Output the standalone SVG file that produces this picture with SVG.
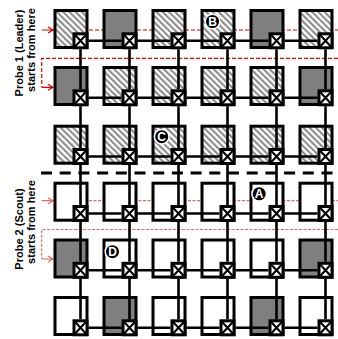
<svg xmlns="http://www.w3.org/2000/svg" xmlns:xlink="http://www.w3.org/1999/xlink" width="338" height="339" viewBox="0 0 338 339">
<style>
.tile{stroke:#000;stroke-width:3}
.h{fill:url(#hatch)}
.g{fill:#7f7f7f}
.w{fill:#fff}
.conn{fill:none;stroke:#000;stroke-width:2.6}
.p1{fill:none;stroke:#e00000;stroke-width:1.2;stroke-dasharray:4 2}
.p2{fill:none;stroke:#e36a6a;stroke-width:1.2;stroke-dasharray:3 1.5}
.a1{fill:none;stroke:#e00000;stroke-width:1.2}
.a2{fill:none;stroke:#e36a6a;stroke-width:1.2}
.lab{font-family:"Liberation Sans",Arial,sans-serif;font-weight:bold;font-size:11px;fill:#000;text-anchor:middle}
.mark circle{fill:#000;stroke:#fff;stroke-width:1.5}
.mark text{font-family:"Liberation Sans",Arial,sans-serif;font-weight:bold;font-size:12px;fill:#fff;text-anchor:middle}
</style>
<defs>
<pattern id="hatch" patternUnits="userSpaceOnUse" width="4.4" height="4.4" patternTransform="rotate(-45)">
<rect width="4.4" height="4.4" fill="#fff"/>
<rect width="2.1" height="4.4" fill="#8c8c8c"/>
</pattern>
<g id="sw">
<rect x="1.5" y="1.5" width="13" height="14" fill="#fff" stroke="#000" stroke-width="3"/>
<path d="M1.5 1.5L14.5 15.5M14.5 1.5L1.5 15.5" stroke="#000" stroke-width="2" fill="none"/>
</g>
</defs>

<g id="probe1">
<path class="p1" d="M53 30H338"/>
<path class="p1" d="M338 58.3H41.7V87.3"/>
<path class="a1" d="M41.7 30H53M48 27L53 30L48 33"/>
<path class="a1" d="M41.7 87.3H53M48 84.3L53 87.3L48 90.3"/>
</g>
<g id="probe2">
<path class="p2" d="M53 200.7H338"/>
<path class="p2" d="M338 229.5H41.7V259"/>
<path class="a2" d="M41.7 200.7H53M48 197.7L53 200.7L48 203.7"/>
<path class="a2" d="M41.7 259H53M48 256L53 259L48 262"/>
</g>

<path id="separator" d="M41 173H338" stroke="#000" stroke-width="3" stroke-dasharray="11 7.7" fill="none"/>

<g id="nodes">
<g id="t11"><rect class="tile h" x="55" y="10.5" width="32" height="37"/><use xlink:href="#sw" x="72.5" y="32.3"/></g>
<g id="t12"><rect class="tile g" x="104" y="10.5" width="32" height="37"/><use xlink:href="#sw" x="121.5" y="32.3"/></g>
<g id="t13"><rect class="tile h" x="153" y="10.5" width="32" height="37"/><use xlink:href="#sw" x="170.5" y="32.3"/></g>
<g id="t14"><rect class="tile h" x="202" y="10.5" width="32" height="37"/><use xlink:href="#sw" x="219.5" y="32.3"/></g>
<g id="t15"><rect class="tile g" x="251" y="10.5" width="32" height="37"/><use xlink:href="#sw" x="268.5" y="32.3"/></g>
<g id="t16"><rect class="tile h" x="300" y="10.5" width="32" height="37"/><use xlink:href="#sw" x="317.5" y="32.3"/></g>

<g id="t21"><rect class="tile g" x="55" y="67.5" width="32" height="37"/><use xlink:href="#sw" x="72.5" y="89.3"/></g>
<g id="t22"><rect class="tile h" x="104" y="67.5" width="32" height="37"/><use xlink:href="#sw" x="121.5" y="89.3"/></g>
<g id="t23"><rect class="tile h" x="153" y="67.5" width="32" height="37"/><use xlink:href="#sw" x="170.5" y="89.3"/></g>
<g id="t24"><rect class="tile h" x="202" y="67.5" width="32" height="37"/><use xlink:href="#sw" x="219.5" y="89.3"/></g>
<g id="t25"><rect class="tile h" x="251" y="67.5" width="32" height="37"/><use xlink:href="#sw" x="268.5" y="89.3"/></g>
<g id="t26"><rect class="tile g" x="300" y="67.5" width="32" height="37"/><use xlink:href="#sw" x="317.5" y="89.3"/></g>

<g id="t31"><rect class="tile h" x="55" y="126.2" width="32" height="37"/><use xlink:href="#sw" x="72.5" y="148"/></g>
<g id="t32"><rect class="tile h" x="104" y="126.2" width="32" height="37"/><use xlink:href="#sw" x="121.5" y="148"/></g>
<g id="t33"><rect class="tile h" x="153" y="126.2" width="32" height="37"/><use xlink:href="#sw" x="170.5" y="148"/></g>
<g id="t34"><rect class="tile h" x="202" y="126.2" width="32" height="37"/><use xlink:href="#sw" x="219.5" y="148"/></g>
<g id="t35"><rect class="tile h" x="251" y="126.2" width="32" height="37"/><use xlink:href="#sw" x="268.5" y="148"/></g>
<g id="t36"><rect class="tile h" x="300" y="126.2" width="32" height="37"/><use xlink:href="#sw" x="317.5" y="148"/></g>

<g id="t41"><rect class="tile w" x="55" y="183.2" width="32" height="37"/><use xlink:href="#sw" x="72.5" y="205"/></g>
<g id="t42"><rect class="tile w" x="104" y="183.2" width="32" height="37"/><use xlink:href="#sw" x="121.5" y="205"/></g>
<g id="t43"><rect class="tile w" x="153" y="183.2" width="32" height="37"/><use xlink:href="#sw" x="170.5" y="205"/></g>
<g id="t44"><rect class="tile w" x="202" y="183.2" width="32" height="37"/><use xlink:href="#sw" x="219.5" y="205"/></g>
<g id="t45"><rect class="tile w" x="251" y="183.2" width="32" height="37"/><use xlink:href="#sw" x="268.5" y="205"/></g>
<g id="t46"><rect class="tile w" x="300" y="183.2" width="32" height="37"/><use xlink:href="#sw" x="317.5" y="205"/></g>

<g id="t51"><rect class="tile g" x="55" y="240" width="32" height="37"/><use xlink:href="#sw" x="72.5" y="261.8"/></g>
<g id="t52"><rect class="tile w" x="104" y="240" width="32" height="37"/><use xlink:href="#sw" x="121.5" y="261.8"/></g>
<g id="t53"><rect class="tile w" x="153" y="240" width="32" height="37"/><use xlink:href="#sw" x="170.5" y="261.8"/></g>
<g id="t54"><rect class="tile w" x="202" y="240" width="32" height="37"/><use xlink:href="#sw" x="219.5" y="261.8"/></g>
<g id="t55"><rect class="tile w" x="251" y="240" width="32" height="37"/><use xlink:href="#sw" x="268.5" y="261.8"/></g>
<g id="t56"><rect class="tile g" x="300" y="240" width="32" height="37"/><use xlink:href="#sw" x="317.5" y="261.8"/></g>

<g id="t61"><rect class="tile w" x="55" y="297.5" width="32" height="37"/><use xlink:href="#sw" x="72.5" y="319.3"/></g>
<g id="t62"><rect class="tile g" x="104" y="297.5" width="32" height="37"/><use xlink:href="#sw" x="121.5" y="319.3"/></g>
<g id="t63"><rect class="tile w" x="153" y="297.5" width="32" height="37"/><use xlink:href="#sw" x="170.5" y="319.3"/></g>
<g id="t64"><rect class="tile w" x="202" y="297.5" width="32" height="37"/><use xlink:href="#sw" x="219.5" y="319.3"/></g>
<g id="t65"><rect class="tile g" x="251" y="297.5" width="32" height="37"/><use xlink:href="#sw" x="268.5" y="319.3"/></g>
<g id="t66"><rect class="tile w" x="300" y="297.5" width="32" height="37"/><use xlink:href="#sw" x="317.5" y="319.3"/></g>
</g>

<g id="connectors">
<path class="conn" d="M80.5 49.3V89.3M80.5 106.3V148M80.5 165V205M80.5 222V261.8M80.5 278.8V319.3
M129.5 49.3V89.3M129.5 106.3V148M129.5 165V205M129.5 222V261.8M129.5 278.8V319.3
M178.5 49.3V89.3M178.5 106.3V148M178.5 165V205M178.5 222V261.8M178.5 278.8V319.3
M227.5 49.3V89.3M227.5 106.3V148M227.5 165V205M227.5 222V261.8M227.5 278.8V319.3
M276.5 49.3V89.3M276.5 106.3V148M276.5 165V205M276.5 222V261.8M276.5 278.8V319.3
M325.5 49.3V89.3M325.5 106.3V148M325.5 165V205M325.5 222V261.8M325.5 278.8V319.3"/>
<path class="conn" d="M88.5 40.8H121.5M137.5 40.8H170.5M186.5 40.8H219.5M235.5 40.8H268.5M284.5 40.8H317.5
M88.5 97.8H121.5M137.5 97.8H170.5M186.5 97.8H219.5M235.5 97.8H268.5M284.5 97.8H317.5
M88.5 156.5H121.5M137.5 156.5H170.5M186.5 156.5H219.5M235.5 156.5H268.5M284.5 156.5H317.5
M88.5 213.5H121.5M137.5 213.5H170.5M186.5 213.5H219.5M235.5 213.5H268.5M284.5 213.5H317.5
M88.5 270.3H121.5M137.5 270.3H170.5M186.5 270.3H219.5M235.5 270.3H268.5M284.5 270.3H317.5
M88.5 327.8H121.5M137.5 327.8H170.5M186.5 327.8H219.5M235.5 327.8H268.5M284.5 327.8H317.5"/>
</g>

<g id="markers">
<g id="mB" class="mark"><circle cx="212.5" cy="21.5" r="7.3"/><text x="212.5" y="25.8">B</text></g>
<g id="mC" class="mark"><circle cx="161.7" cy="136.7" r="7.3"/><text x="161.7" y="141">C</text></g>
<g id="mA" class="mark"><circle cx="259.2" cy="193.8" r="7.3"/><text x="259.2" y="198.1">A</text></g>
<g id="mD" class="mark"><circle cx="112.5" cy="251.7" r="7.3"/><text x="112.5" y="256">D</text></g>
</g>

<g id="labels">
<text class="lab" transform="translate(22.5,53) rotate(-90)">Probe 1 (Leader)</text>
<text class="lab" transform="translate(35,50) rotate(-90)">starts from here</text>
<text class="lab" transform="translate(22.5,229) rotate(-90)">Probe 2 (Scout)</text>
<text class="lab" transform="translate(35,222) rotate(-90)">starts from here</text>
</g>
</svg>
